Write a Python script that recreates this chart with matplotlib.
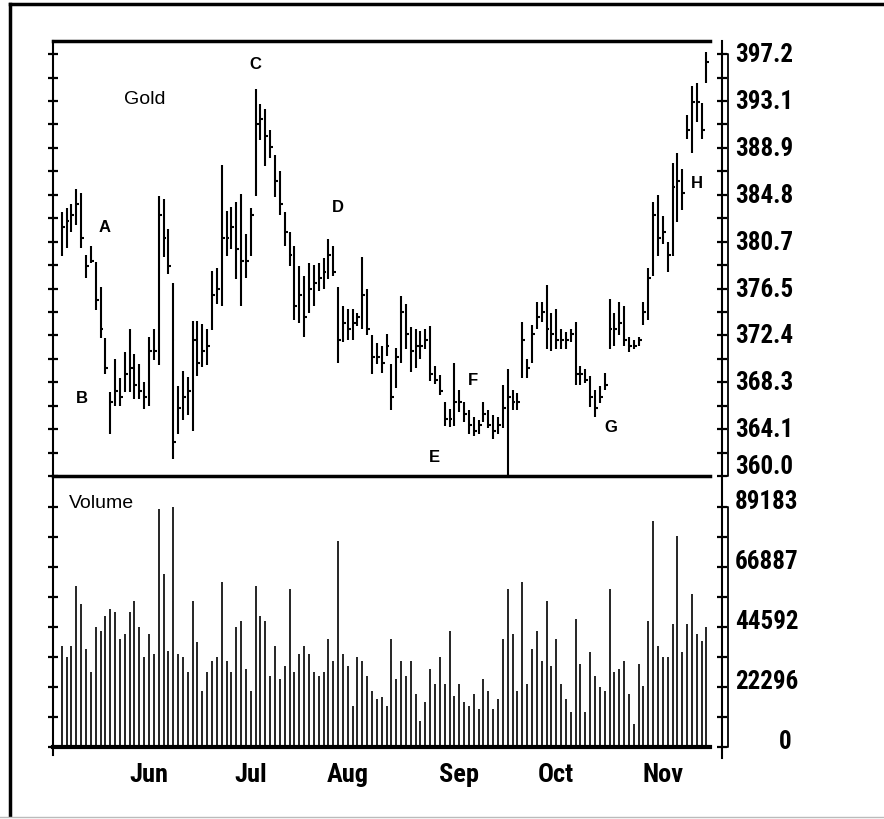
import numpy as np
import matplotlib
matplotlib.use('Agg')
import matplotlib.pyplot as plt
from matplotlib import font_manager
from matplotlib.lines import Line2D
from matplotlib.transforms import blended_transform_factory, offset_copy

# month labels and the trading-day index where each month starts
months = ['Jun', 'Jul', 'Aug', 'Sep', 'Oct', 'Nov']
month_start = [18, 39, 59, 82, 102, 124]

# daily gold bars (high / low / close)
high = [383.3, 383.6, 384.0, 385.3, 385.0, 379.5, 380.3, 378.9, 376.7, 372.2,
        367.4, 370.3, 368.6, 370.9, 373.0, 370.8, 369.9, 368.3, 372.3, 373.0,
        384.7, 384.4, 381.8, 377.0, 367.9, 369.3, 368.7, 373.7, 373.7, 373.4,
        373.0, 378.1, 378.3, 387.4, 383.4, 383.7, 384.2, 384.9, 381.3, 383.6,
        394.1, 392.8, 392.4, 390.5, 388.3, 386.9, 383.3, 381.5, 380.3, 378.5,
        377.6, 378.8, 378.6, 378.8, 379.2, 380.9, 380.3, 376.7, 375.0, 374.7,
        374.7, 374.4, 379.3, 376.5, 372.4, 371.7, 371.5, 372.5, 369.9, 371.3,
        375.9, 375.2, 373.1, 373.0, 372.8, 373.0, 373.2, 369.7, 368.9, 366.5,
        365.9, 370.0, 367.6, 366.5, 365.8, 365.2, 364.9, 366.5, 365.8, 365.4,
        365.2, 368.0, 369.4, 367.6, 367.3, 373.6, 370.3, 373.3, 375.3, 375.3,
        376.8, 374.4, 374.7, 373.0, 372.7, 373.0, 373.6, 369.7, 369.4, 368.8,
        367.6, 367.9, 369.1, 375.6, 374.4, 375.3, 375.0, 372.3, 372.0, 372.3,
        375.3, 378.3, 384.2, 384.8, 382.9, 380.6, 387.6, 388.5, 387.1, 391.8,
        394.4, 394.7, 392.9, 397.4]
low = [379.4, 380.1, 381.5, 382.1, 380.1, 377.5, 378.8, 374.6, 372.2, 369.0,
       363.7, 366.2, 366.2, 367.4, 367.4, 366.8, 366.8, 365.9, 366.2, 370.2,
       369.8, 379.3, 377.8, 361.5, 363.7, 364.9, 365.4, 364.0, 368.8, 369.6,
       369.8, 372.9, 375.2, 375.0, 379.4, 380.0, 377.4, 375.0, 377.5, 379.4,
       384.7, 389.6, 387.3, 388.0, 384.6, 383.0, 380.3, 378.5, 373.8, 373.5,
       372.3, 374.4, 375.0, 376.3, 376.5, 377.4, 377.6, 370.0, 371.8, 372.0,
       372.0, 373.2, 373.0, 372.4, 369.0, 369.9, 369.1, 370.6, 365.8, 367.8,
       370.0, 371.2, 369.2, 369.5, 370.3, 371.2, 368.4, 368.1, 367.1, 364.4,
       364.3, 364.4, 365.6, 364.8, 363.7, 363.5, 363.7, 364.8, 364.2, 363.3,
       363.7, 364.2, 360.0, 365.8, 365.8, 368.6, 368.6, 370.0, 373.0, 373.6,
       371.2, 371.0, 371.2, 371.2, 371.2, 371.8, 368.0, 368.0, 368.2, 366.1,
       365.2, 366.4, 367.6, 371.2, 371.5, 372.4, 371.5, 370.9, 371.2, 371.5,
       373.3, 373.8, 377.6, 379.4, 380.5, 378.0, 379.4, 382.4, 383.5, 389.7,
       388.5, 391.2, 389.7, 394.7]
close = [382.0, 382.5, 383.0, 384.0, 381.0, 378.5, 379.0, 375.5, 373.0, 369.5,
         366.5, 367.5, 367.0, 369.0, 369.5, 368.0, 367.5, 367.0, 371.0, 371.0,
         383.0, 381.0, 378.5, 363.0, 366.0, 367.0, 367.5, 372.0, 370.0, 371.0,
         371.5, 376.0, 376.5, 381.0, 381.0, 382.0, 380.0, 379.0, 379.0, 383.0,
         391.0, 391.5, 390.0, 389.0, 386.0, 384.0, 381.5, 379.5, 375.0, 376.0,
         374.0, 376.5, 377.0, 377.5, 378.0, 379.5, 378.0, 372.0, 373.5, 373.0,
         373.5, 374.0, 376.0, 373.0, 370.5, 370.5, 370.0, 371.5, 367.0, 370.5,
         374.5, 372.5, 371.0, 371.5, 371.5, 372.0, 369.0, 368.5, 367.5, 365.0,
         365.0, 366.5, 366.5, 365.5, 364.5, 364.0, 364.5, 365.5, 364.5, 364.0,
         364.5, 366.0, 367.0, 366.5, 366.5, 372.0, 369.5, 372.5, 374.0, 374.5,
         373.0, 372.5, 372.0, 372.0, 372.0, 372.5, 369.0, 369.0, 368.5, 367.0,
         366.0, 367.0, 368.0, 373.0, 373.0, 373.5, 372.0, 371.5, 371.5, 372.0,
         374.5, 377.5, 383.0, 381.0, 381.5, 379.5, 385.5, 386.0, 385.0, 390.5,
         393.0, 393.0, 390.5, 396.5]
volume = [37650, 33330, 37650, 59950, 53140, 36420, 27750, 44470, 43230, 48800,
          51280, 50040, 40130, 41990, 50040, 54380, 44470, 33330, 41990, 34560,
          88440, 64290, 35800, 89060, 34560, 33330, 27750, 54380, 38890, 20930,
          27750, 32080, 33330, 61190, 32080, 27750, 44470, 46950, 28990, 20930,
          59950, 48800, 46950, 26510, 37650, 25270, 30220, 58710, 27750, 34560,
          37650, 34560, 27750, 26510, 27750, 40130, 32080, 76670, 34560, 30220,
          15360, 33330, 32080, 26510, 20930, 17840,
          18460, 15360, 40130, 25270, 32080, 26510, 32080, 19700, 9790, 16600,
          28990, 23410, 33330, 23410, 43230, 19080, 23410, 16600, 15360, 19700,
          14120, 25270, 20930, 14120, 17840, 40130, 58710, 41990, 20930, 61190,
          23410, 36420, 43230, 32080, 54380, 30220, 40130, 23410, 17840, 12880,
          47560, 30840, 12880, 35180, 26510, 22170, 20930, 58710, 27750, 28990,
          32080, 19700, 8550, 30840, 22790, 46950, 84100, 37650, 33330, 33330,
          45710, 78530, 35180, 45710, 56850, 41990, 39500, 44470]

price_ticks = np.linspace(360.0, 397.2, 10)
vol_ticks = np.linspace(0, 89183, 5)

# narrow bold font for the scale labels, like the old printout
entries = font_manager.fontManager.ttflist
names = {f.name for f in entries}
condensed = {f.name for f in entries if 'condensed' in str(f.stretch)}
if 'Liberation Sans Narrow' in names:
    num_kw = dict(family='Liberation Sans Narrow', fontsize=18)
elif 'Roboto Condensed' in names:
    num_kw = dict(family='Roboto Condensed', fontsize=18)
elif 'DejaVu Sans' in condensed:
    num_kw = dict(family='DejaVu Sans', fontstretch='condensed', fontsize=15)
elif condensed:
    num_kw = dict(family=sorted(condensed)[0], fontstretch='condensed', fontsize=18)
else:
    num_kw = dict(family='DejaVu Sans Mono', fontsize=14)
num_kw['fontweight'] = 'bold'
month_kw = dict(num_kw, fontsize=num_kw['fontsize'] + 1)
txt_font = 'Liberation Sans'

W, H = 884, 820
fig = plt.figure(figsize=(W / 100, H / 100), dpi=100)


def box(l, t, r, b):
    return [l / W, 1 - b / H, (r - l) / W, (b - t) / H]


ax = fig.add_axes(box(53, 42, 722, 477))
axv = fig.add_axes(box(53, 477, 722, 748), sharex=ax)
ax.patch.set_visible(False)
axv.patch.set_visible(False)

x = np.arange(len(high))
ax.vlines(x, low, high, color='k', lw=1.5)
ax.hlines(close, x, x + 0.6, color='k', lw=1.5)
axv.vlines(x, 0, volume, color='k', lw=1.2)

ax.set_xlim(-1.8, 136.2)
ax.set_ylim(360, 398.36)
axv.set_ylim(0, 100700)

for a in (ax, axv):
    a.spines['top'].set_visible(False)
    a.spines['bottom'].set_visible(False)
    a.spines['left'].set_linewidth(1.5)
    a.spines['right'].set_linewidth(1.5)
    a.tick_params(axis='y', which='both', direction='inout', length=7, width=1.6,
                  left=True, right=True, labelleft=False, labelright=False)

ax.set_yticks(np.linspace(360, 397.2, 19))
axv.set_yticks(np.linspace(0, 89183, 9))

# heavy horizontal rules
ax.axhline(398.36, 0, 0.982, color='k', lw=2.5, clip_on=False, zorder=5)
ax.axhline(360, 0, 0.982, color='k', lw=2.5, clip_on=False, zorder=5)
axv.axhline(0, 0, 0.982, color='k', lw=3, clip_on=False, zorder=5)
axv.plot([0, 0], [0, -0.03], transform=axv.transAxes, color='k', lw=1.5, clip_on=False)
axv.plot([1, 1], [0, -0.04], transform=axv.transAxes, color='k', lw=1.5, clip_on=False)

# right scale brackets and labels
tr = blended_transform_factory(ax.transAxes, ax.transData)
ax.plot([1.0, 1.009, 1.009, 1.0], [397.2, 397.2, 360, 360], transform=tr,
        color='k', lw=1.3, clip_on=False)
for v in price_ticks:
    yy = v + 0.9 if v == price_ticks[0] else v
    ax.text(1.019, yy, f'{v:.1f}', transform=tr, ha='left', va='center', **num_kw)

trv = blended_transform_factory(axv.transAxes, axv.transData)
axv.plot([1.0, 1.009, 1.009, 1.0], [89183, 89183, 0, 0], transform=trv,
         color='k', lw=1.3, clip_on=False)
trv_up = offset_copy(trv, fig=fig, y=6, units='dots')
for v in vol_ticks:
    axv.text(1.019 if v > 0 else 1.085, v, f'{v:.0f}', transform=trv_up,
             ha='left', va='center', **num_kw)

# months along the bottom
axv.set_xticks(month_start)
axv.set_xticklabels(months, **month_kw)
axv.tick_params(axis='x', length=0, pad=11)
ax.tick_params(axis='x', length=0, labelbottom=False)

# chart notes
ax.text(17.2, 393.3, 'Gold', fontsize=14, family=txt_font, ha='center', va='center')
for lab, xi, yv in [('A', 8.9, 382.0), ('B', 4.2, 366.9), ('C', 40, 396.4),
                    ('D', 57, 383.8), ('E', 76.8, 361.7), ('F', 84.8, 368.5),
                    ('G', 113.3, 364.4), ('H', 131, 385.9)]:
    ax.text(xi, yv, lab, fontsize=12, fontweight='bold', family=txt_font,
            ha='center', va='center')
axv.text(8.1, 90670, 'Volume', fontsize=14, family=txt_font, ha='center', va='center')

# outer frame of the page
fig.add_artist(Line2D([10 / W, 10 / W], [1 - 5 / H, 1 - 816 / H], color='k', lw=2.5))
fig.add_artist(Line2D([10 / W, 1], [1 - 5 / H, 1 - 5 / H], color='k', lw=2.5))
fig.add_artist(Line2D([0, 1], [1 - 818 / H, 1 - 818 / H], color='#bbbbbb', lw=1))

fig.savefig('out.png', dpi=100)
